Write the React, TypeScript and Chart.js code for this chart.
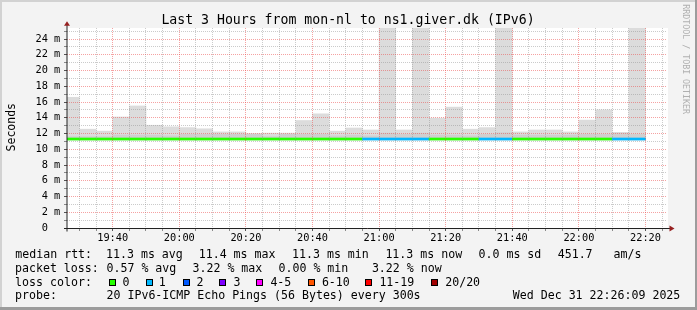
import React, { useEffect, useRef } from "react";
import { Chart, registerables } from "chart.js";

Chart.register(...registerables);

// ---- data (each sample covers the 5 minutes ending at its time) ----
const sampleEnds = [
  "19:30", "19:35", "19:40", "19:45", "19:50", "19:55", "20:00", "20:05", "20:10", "20:15",
  "20:20", "20:25", "20:30", "20:35", "20:40", "20:45", "20:50", "20:55", "21:00", "21:05",
  "21:10", "21:15", "21:20", "21:25", "21:30", "21:35", "21:40", "21:45", "21:50", "21:55",
  "22:00", "22:05", "22:10", "22:15", "22:20",
];
const medianRtt = [
  11.3, 11.3, 11.3, 11.3, 11.3, 11.3, 11.3, 11.3, 11.3, 11.3,
  11.3, 11.3, 11.3, 11.3, 11.3, 11.3, 11.3, 11.3, 11.3, 11.3,
  11.3, 11.3, 11.3, 11.3, 11.3, 11.3, 11.3, 11.3, 11.3, 11.3,
  11.3, 11.3, 11.3, 11.3, 11.3,
];
const smokeMin = [
  11.2, 11.2, 11.2, 11.2, 11.2, 11.2, 11.2, 11.2, 11.2, 11.2,
  11.2, 11.2, 11.2, 11.2, 11.2, 11.2, 11.2, 11.2, 11.2, 11.2,
  11.2, 11.2, 11.2, 11.2, 11.2, 11.2, 11.2, 11.2, 11.2, 11.2,
  11.2, 11.2, 11.2, 11.2, 11.2,
];
const smokeCore = [
  11.6, 11.6, 11.6, 11.8, 11.8, 11.8, 11.7, 11.9, 11.9, 11.9,
  11.9, 11.9, 11.6, 11.9, 11.9, 11.9, 11.7, 11.8, 11.7, 12.05,
  11.9, 12.05, 11.8, 11.8, 11.7, 11.9, 12.1, 11.8, 11.8, 11.8,
  11.8, 11.9, 11.9, 12.0, 11.9,
];
const smokeMax = [
  16.6, 12.55, 12.3, 14.1, 15.5, 13.05, 12.85, 12.75, 12.6, 12.2,
  12.2, 12.0, 12.05, 12.05, 13.65, 14.5, 12.3, 12.7, 12.45, 30,
  12.45, 30, 13.95, 15.35, 12.55, 12.75, 30, 12.2, 12.45, 12.45,
  12.2, 13.7, 15.0, 12.15, 30,
];
const lossCount = [
  0, 0, 0, 0, 0, 0, 0, 0, 0, 0,
  0, 0, 0, 0, 0, 0, 0, 0, 1, 1,
  1, 1, 0, 0, 0, 1, 1, 0, 0, 0,
  0, 0, 0, 1, 1,
];
const lossLabels = ["0", "1", "2", "3", "4-5", "6-10", "11-19", "20/20"];
const lossUpper = [0, 1, 2, 3, 5, 10, 19, 20];
const lossColors = ["#26ff00", "#00b8ff", "#0059ff", "#7e00ff", "#ff00ff", "#ff5500", "#ff0000", "#a10000"];
const xLabelTimes = ["19:40", "20:00", "20:20", "20:40", "21:00", "21:20", "21:40", "22:00", "22:20"];
const yLabelValues = [0, 2, 4, 6, 8, 10, 12, 14, 16, 18, 20, 22, 24];

const titleText = "Last 3 Hours from mon-nl to ns1.giver.dk (IPv6)";

// ---- layout / style constants ----
const W = 697;
const H = 310;
const PLOT_LEFT = 67;
const PLOT_RIGHT = 667;
const PLOT_TOP = 28;
const PLOT_BOTTOM = 228;
const VIEW_START = 1166.28; // minutes since midnight
const VIEW_END = 1346.46;
const Y_MAX = 25.4;
const STEP = 5;
const LINE_HALF = 0.13;
const MONO = '"DejaVu Sans Mono", monospace';
const MINOR = "rgba(140,140,140,0.45)";
const MAJOR = "rgba(235,70,70,0.5)";
const AXIS = "#222222";
const ARROW = "#962020";

const toMin = (s: string) => {
  const [h, m] = s.split(":").map(Number);
  return h * 60 + m;
};
const fmtMin = (v: number) => `${Math.floor(v / 60)}:${String(v % 60).padStart(2, "0")}`;
const lossIndex = (c: number) => {
  for (let i = 0; i < lossUpper.length; i++) if (c <= lossUpper[i]) return i;
  return lossUpper.length - 1;
};

const xMajor = xLabelTimes.map(toMin);
const xGrid: number[] = [];
for (let t = Math.ceil(VIEW_START / STEP) * STEP; t <= VIEW_END; t += STEP) xGrid.push(t);
const yGrid: number[] = [];
for (let v = 0; v <= Math.floor(Y_MAX); v++) yGrid.push(v);

const centers = sampleEnds.map((s) => toMin(s) - STEP / 2);

const framePlugin = {
  id: "rrdFrame",
  beforeDraw(chart: any) {
    const { ctx, chartArea } = chart;
    ctx.save();
    ctx.fillStyle = "#ffffff";
    ctx.fillRect(chartArea.left, chartArea.top, chartArea.right - chartArea.left + 1, chartArea.bottom - chartArea.top);
    ctx.restore();
  },
  afterDraw(chart: any) {
    const { ctx, chartArea } = chart;
    const { left, right, top, bottom } = chartArea;
    ctx.save();
    ctx.lineWidth = 1;
    ctx.strokeStyle = AXIS;
    // y axis
    ctx.beginPath();
    ctx.moveTo(left, bottom + 3.5);
    ctx.lineTo(left, top - 4);
    ctx.stroke();
    // x axis
    ctx.beginPath();
    ctx.moveTo(left - 3, bottom + 0.5);
    ctx.lineTo(right + 4, bottom + 0.5);
    ctx.stroke();
    // arrows
    ctx.fillStyle = ARROW;
    ctx.beginPath();
    ctx.moveTo(left, top - 6.7);
    ctx.lineTo(left - 3, top - 2.3);
    ctx.lineTo(left + 3, top - 2.3);
    ctx.closePath();
    ctx.fill();
    ctx.beginPath();
    ctx.moveTo(right + 7.5, bottom + 0.5);
    ctx.lineTo(right + 2.5, bottom - 2.5);
    ctx.lineTo(right + 2.5, bottom + 3.5);
    ctx.closePath();
    ctx.fill();
    ctx.restore();
  },
};

const statLines: { y: number; items: [number, string][] }[] = [
  {
    y: 257.7,
    items: [
      [15.3, "median rtt:"],
      [106.0, "11.3 ms avg"],
      [198.7, "11.4 ms max"],
      [292.0, "11.3 ms min"],
      [385.4, "11.3 ms now"],
      [478.5, "0.0 ms sd"],
      [557.7, "451.7   am/s"],
    ],
  },
  {
    y: 271.6,
    items: [
      [15.0, "packet loss:"],
      [106.5, "0.57 % avg"],
      [192.5, "3.22 % max"],
      [278.5, "0.00 % min"],
      [371.9, "3.22 % now"],
    ],
  },
  { y: 285.6, items: [[15.1, "loss color:"]] },
  {
    y: 299.4,
    items: [
      [15.0, "probe:"],
      [106.5, "20 IPv6-ICMP Echo Pings (56 Bytes) every 300s"],
      [512.8, "Wed Dec 31 22:26:09 2025"],
    ],
  },
];
const lossBoxX = [109, 146, 183, 219, 256, 308, 365, 431];
const lossTextX = [122.5, 158.7, 196.5, 233.5, 270.4, 321.9, 379.4, 445.2];

export default function App() {
  const ref = useRef<HTMLCanvasElement>(null);

  useEffect(() => {
    const canvas = ref.current;
    if (!canvas) return;
    const barCommon = {
      type: "bar" as const,
      grouped: false,
      barPercentage: 1,
      categoryPercentage: 1,
      borderWidth: 0,
      clip: 0,
    };
    const chart = new Chart(canvas, {
      type: "bar",
      data: {
        datasets: [
          {
            ...barCommon,
            label: "median rtt",
            data: centers.map((x, i) => ({ x, y: [medianRtt[i] - LINE_HALF, medianRtt[i] + LINE_HALF] })) as any,
            backgroundColor: lossCount.map((c) => lossColors[lossIndex(c)]),
          },
          {
            ...barCommon,
            label: "smoke core",
            data: centers.map((x, i) => ({ x, y: [smokeMin[i], smokeCore[i]] })) as any,
            backgroundColor: "#cfcfcf",
          },
          {
            ...barCommon,
            label: "smoke",
            data: centers.map((x, i) => ({ x, y: [smokeMin[i], smokeMax[i]] })) as any,
            backgroundColor: "#dcdcdc",
          },
        ],
      },
      options: {
        animation: false,
        responsive: false,
        devicePixelRatio: 1,
        events: [],
        layout: {
          padding: { left: 0, top: PLOT_TOP, right: W - PLOT_RIGHT, bottom: 0 },
        },
        plugins: {
          legend: { display: false },
          tooltip: { enabled: false },
          title: { display: false },
        },
        scales: {
          x: {
            type: "linear",
            min: VIEW_START,
            max: VIEW_END,
            offset: false,
            afterBuildTicks: (axis: any) => {
              axis.ticks = xGrid.map((v) => ({ value: v }));
            },
            afterFit: (axis: any) => {
              axis.height = H - PLOT_BOTTOM;
            },
            ticks: {
              autoSkip: false,
              maxRotation: 0,
              minRotation: 0,
              padding: 1,
              color: "#000000",
              font: { family: MONO, size: 10.3 },
              callback: (v: any) => (xMajor.includes(Number(v)) ? fmtMin(Number(v)) : ""),
            },
            grid: {
              z: 1,
              offset: false,
              lineWidth: 1,
              drawTicks: true,
              tickLength: 3,
              tickBorderDash: [],
              color: (ctx: any) => (ctx.tick && xMajor.includes(ctx.tick.value) ? MAJOR : MINOR),
              tickColor: (ctx: any) => (ctx.tick && xMajor.includes(ctx.tick.value) ? "#555555" : "#8a8a8a"),
            },
            border: { display: false, dash: [1, 1] },
          },
          y: {
            type: "linear",
            min: 0,
            max: Y_MAX,
            afterBuildTicks: (axis: any) => {
              axis.ticks = yGrid.map((v) => ({ value: v }));
            },
            afterFit: (axis: any) => {
              axis.width = PLOT_LEFT;
            },
            ticks: {
              autoSkip: false,
              padding: 3.7,
              color: "#000000",
              font: { family: MONO, size: 10.3 },
              callback: (v: any) => {
                const n = Number(v);
                if (!yLabelValues.includes(n)) return "";
                return n === 0 ? "0  " : `${n} m`;
              },
            },
            grid: {
              z: 1,
              lineWidth: 1,
              drawTicks: true,
              tickLength: 3,
              tickBorderDash: [],
              color: (ctx: any) => (ctx.tick && yLabelValues.includes(ctx.tick.value) ? MAJOR : MINOR),
              tickColor: (ctx: any) => (ctx.tick && yLabelValues.includes(ctx.tick.value) ? "#555555" : "#8a8a8a"),
            },
            border: { display: false, dash: [1, 1] },
          },
        },
      },
      plugins: [framePlugin],
    } as any);
    return () => chart.destroy();
  }, []);

  const textStyle: React.CSSProperties = { fontFamily: MONO, whiteSpace: "pre" };

  return (
    <div
      style={{
        position: "absolute",
        left: 0,
        top: 0,
        width: W,
        height: H,
        background: "#f3f3f3",
        overflow: "hidden",
      }}
    >
      <canvas
        ref={ref}
        width={W}
        height={H}
        style={{ position: "absolute", left: 0, top: 0, width: W, height: H, display: "block" }}
      />
      <svg
        width={W}
        height={H}
        viewBox={`0 0 ${W} ${H}`}
        style={{ position: "absolute", left: 0, top: 0, pointerEvents: "none" }}
        xmlSpace="preserve"
      >
        <rect x={0} y={0} width={W} height={2} fill="#d2d2d2" />
        <rect x={0} y={0} width={2} height={H} fill="#d2d2d2" />
        <rect x={W - 2} y={0} width={2} height={H} fill="#9c9c9c" />
        <rect x={0} y={H - 3} width={W} height={3} fill="#9c9c9c" />

        <text x={348} y={24} fontSize={13.2} textAnchor="middle" fill="#000" style={textStyle}>
          {titleText}
        </text>
        <text
          x={15}
          y={127.2}
          fontSize={11.5}
          textAnchor="middle"
          fill="#000"
          transform="rotate(-90 15 127.2)"
          style={textStyle}
        >
          Seconds
        </text>
        <text x={683.3} y={4.2} fontSize={8.3} fill="#b0b0b0" transform="rotate(90 683.3 4.2)" style={textStyle}>
          RRDTOOL / TOBI OETIKER
        </text>

        {statLines.map((line, li) =>
          line.items.map(([x, s], ii) => (
            <text key={`${li}-${ii}`} x={x} y={line.y} fontSize={11.6} fill="#000" style={textStyle}>
              {s}
            </text>
          ))
        )}
        {lossLabels.map((lab, i) => (
          <g key={lab}>
            <rect x={lossBoxX[i] + 0.5} y={279.5} width={6} height={6} fill={lossColors[i]} stroke="#000" strokeWidth={1} />
            <text x={lossTextX[i]} y={285.6} fontSize={11.6} fill="#000" style={textStyle}>
              {lab}
            </text>
          </g>
        ))}
      </svg>
    </div>
  );
}
